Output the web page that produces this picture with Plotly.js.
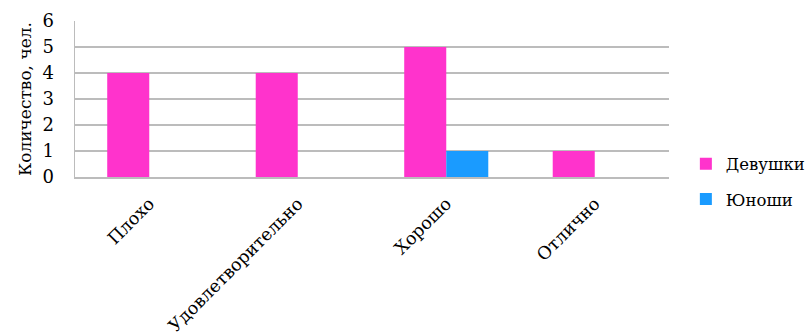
<!DOCTYPE html>
<html>
<head>
<meta charset="utf-8">
<script src="https://cdn.plot.ly/plotly-3.0.1.min.js"></script>
<style>html,body{margin:0;padding:0;background:#fff;}#chart{width:805px;height:336px;}</style>
</head>
<body>
<div id="chart"></div>
<script>
const categories = ["Плохо", "Удовлетворительно", "Хорошо", "Отлично"];
const girls = [4, 4, 5, 1];
const boys = [0, 0, 1, 0];
const seriesNames = ["Девушки", "Юноши"];
const yTicks = [0, 1, 2, 3, 4, 5, 6];

const font = {family: "DejaVu Serif", size: 17.5, color: "#000"};
const legendFont = {family: "DejaVu Serif", size: 16.5, color: "#000"};

const data = [
  {type: "bar", x: categories, y: girls, name: seriesNames[0], legendgroup: "a",
   marker: {color: "#FF33CC"}},
  {type: "bar", x: categories, y: boys, name: seriesNames[1], legendgroup: "b",
   marker: {color: "#1A9BFF"}}
];

const layout = {
  width: 805, height: 336,
  margin: {l: 75, r: 136, t: 21, b: 159},
  paper_bgcolor: "#fff", plot_bgcolor: "#fff",
  font: font,
  barmode: "group", bargap: 0.434, bargroupgap: 0,
  showlegend: true,
  legend: {xref: "container", yref: "container", x: 0.852, xanchor: "left",
           y: 0.46, yanchor: "middle",
           font: legendFont, tracegroupgap: 11, itemwidth: 30},
  xaxis: {
    type: "category", tickangle: -45, showgrid: false, zeroline: false,
    showline: true, linecolor: "#bcbcbc", linewidth: 1.5,
    ticks: "", ticklabelstandoff: 8, tickfont: font
  },
  yaxis: {
    range: [0, 6], tickvals: yTicks, ticktext: yTicks.map(String),
    showgrid: true, gridcolor: "#bcbcbc", gridwidth: 1.5,
    zeroline: false, showline: true, linecolor: "#bcbcbc", linewidth: 1.5,
    ticks: "", ticklabelstandoff: 16, tickfont: {family: "DejaVu Serif", size: 18, color: "#000"},
    title: {text: "Количество, чел.", font: {family: "DejaVu Serif", size: 17, color: "#000"}, standoff: 6}
  }
};

Plotly.newPlot("chart", data, layout, {displayModeBar: false, staticPlot: true});
</script>
</body>
</html>
